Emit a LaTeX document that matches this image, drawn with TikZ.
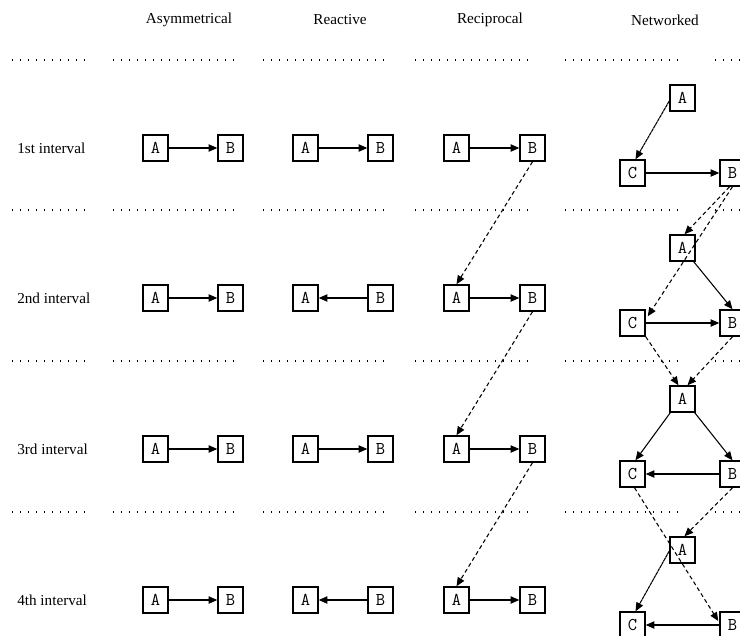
\documentclass[tikz,border=0pt]{standalone}
\usepackage{fontspec}
\setmainfont{Liberation Serif}
\usetikzlibrary{arrows.meta,calc}
\begin{document}
\begin{tikzpicture}[x=0.75pt,y=-0.75pt,
  agent/.style={draw,line width=1.1pt,minimum width=18.75pt,minimum height=19.5pt,inner sep=0pt,
    font=\ttfamily\fontsize{13.5}{13.5}\selectfont},
  lbl/.style={font=\fontsize{11.4}{13}\selectfont,inner sep=0pt},
  tip/.style={-{Triangle[length=6.5pt,width=5.5pt]}},
  link/.style={line width=0.8pt,tip},
  prevlink/.style={line width=0.8pt,dash pattern=on 3pt off 2.2pt,tip},
  roughlink/.style={line width=0.8pt,dash pattern=on 2.6pt off 0.4pt,tip},
  sep/.style={line width=0.9pt,dash pattern=on 0.8pt off 5.2pt}
]
\clip (0,0) rectangle (740,636);
\fill[white] (0,0) rectangle (740,636);

% headers
\node[lbl] (h1) at (189,20) {Asymmetrical};
\node[lbl] (h2) at (340,20) {Reactive};
\node[lbl] (h3) at (490,20) {Reciprocal};
\node[lbl] (h4) at (665,20) {Networked};

% separators
\foreach \y in {60,210,361,512}{
  \foreach \a/\b in {12/89,113/238,263/388,415/531,565/681,715/745}{
    \draw[sep] (\a,\y) -- (\b,\y);
  }
}

% row labels and simple columns
\foreach \i/\y/\t in {1/148/1st interval,2/298/2nd interval,3/449/3rd interval,4/600/4th interval}{
  \node[lbl,anchor=west] (L\i) at (17,\y) {\t};
  \node[agent] (SA\i) at (155.5,\y) {A};
  \node[agent] (SB\i) at (230.5,\y) {B};
  \node[agent] (TA\i) at (305.5,\y) {A};
  \node[agent] (TB\i) at (380.5,\y) {B};
  \node[agent] (RA\i) at (456.5,\y) {A};
  \node[agent] (RB\i) at (532.5,\y) {B};
  \draw[link] (SA\i) -- (SB\i);
  \draw[link] (RA\i) -- (RB\i);
}
\draw[link] (TA1) -- (TB1);
\draw[link] (TB2) -- (TA2);
\draw[link] (TA3) -- (TB3);
\draw[link] (TB4) -- (TA4);

% reciprocal dashed links
\draw[prevlink] (RB1.south) -- (RA2.north);
\draw[prevlink] (RB2.south) -- (RA3.north);
\draw[prevlink] (RB3.south) -- (RA4.north);

% networked
\foreach \i/\y in {1/148,2/298,3/449,4/600}{
  \node[agent] (NA\i) at (682.5,\y-50) {A};
  \node[agent] (NC\i) at (632.5,\y+25) {C};
  \node[agent] (NB\i) at (732.5,\y+25) {B};
}
% 1st
\draw[roughlink] ($(NA1.west)+(0,3)$) -- ($(NC1.north)+(3,0)$);
\draw[link] (NC1) -- (NB1);
% 1st -> 2nd
\draw[prevlink] ($(NB1.south)+(-3,0)$) -- ($(NA2.north)+(2,0)$);
\draw[prevlink] (NB1.south) -- ($(NC2.north east)+(2,7)$);
% 2nd
\draw[link] ($(NA2.south east)+(-2,0)$) -- (NB2.north);
\draw[link] (NC2) -- (NB2);
% 2nd -> 3rd
\draw[prevlink] (NC2.south east) -- ($(NA3.north)+(-4,0)$);
\draw[prevlink] (NB2.south) -- ($(NA3.north)+(5,0)$);
% 3rd
\draw[link] ($(NA3.south west)+(1,0)$) -- ($(NC3.north)+(3,0)$);
\draw[link] ($(NA3.south east)+(-1,0)$) -- (NB3.north);
\draw[link] (NB3) -- (NC3);
% 3rd -> 4th
\draw[prevlink] ($(NC3.south)+(2,0)$) -- ($(NB4.west)+(-1,-4)$);
\draw[prevlink] (NB3.south) -- ($(NA4.north)+(2,0)$);
% 4th
\draw[roughlink] ($(NA4.west)+(0,1)$) -- ($(NC4.north)+(3,0)$);
\draw[link] (NB4) -- (NC4);
\end{tikzpicture}
\end{document}
